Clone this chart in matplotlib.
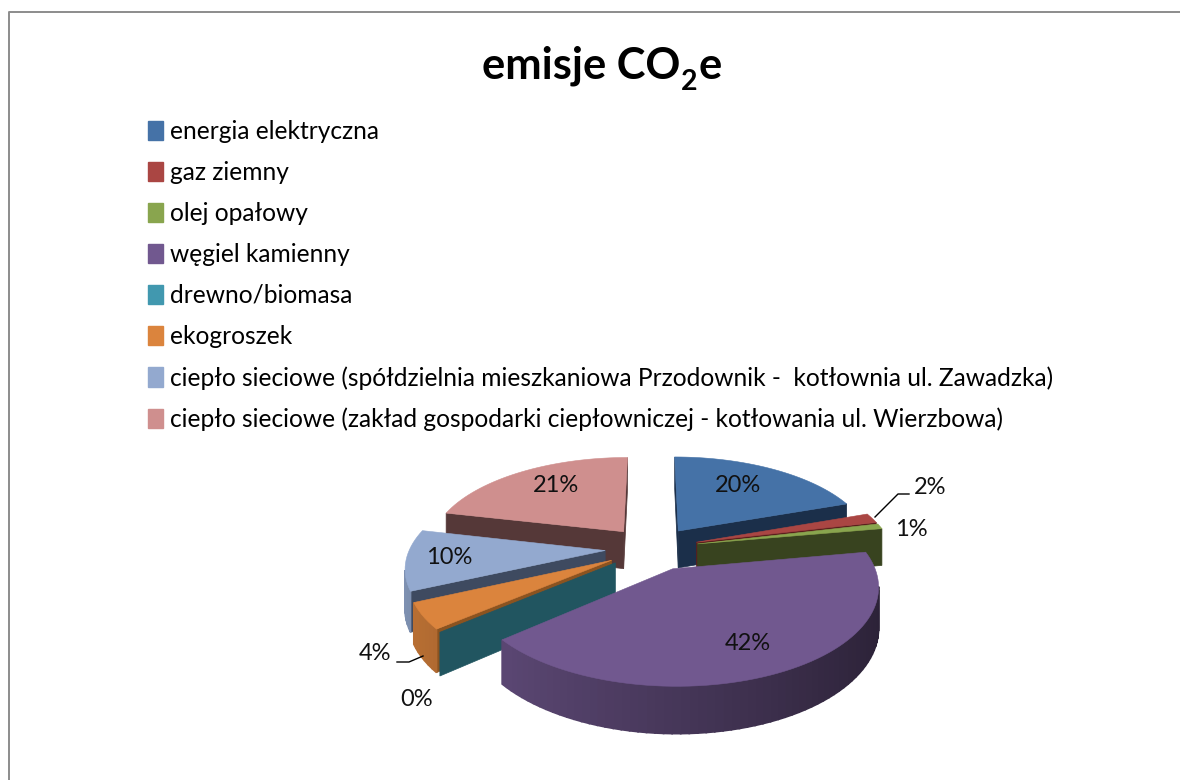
import numpy as np
import matplotlib
matplotlib.use("Agg")
import matplotlib.pyplot as plt
from matplotlib.patches import Patch

plt.rcParams['font.family'] = ['Lato', 'DejaVu Sans']

# Data
categories = ["energia elektryczna", "gaz ziemny", "olej opałowy", "węgiel kamienny",
              "drewno/biomasa", "ekogroszek",
              "ciepło sieciowe (spółdzielnia mieszkaniowa Przodownik -  kotłownia ul. Zawadzka)",
              "ciepło sieciowe (zakład gospodarki ciepłowniczej - kotłowania ul. Wierzbowa)"]
shares = [19.6, 1.7, 0.9, 41.6, 0.0, 4.4, 10.4, 21.4]
label_texts = ['20%', '2%', '1%', '42%', '0%', '4%', '10%', '21%']

# Colours
top_colors = ['#4572A7', '#AA4643', '#89A54E', '#71588F', '#4198AF', '#DB843D', '#93A9CF', '#CF8F8E']
wall_colors = ['#1B2F4A', '#5A1E1C', '#38431F', '#2F2540', '#215560', '#8B5320', '#3E4A60', '#553838']

# Perspective of the pie (pixels)
cx, hy = 652, -16.6   # centre line, horizon
k, d = 1242, 6.2      # focal scale, camera distance
H, D = 2.82, 0.19     # plane height, pie thickness
x_scale = 0.975
explode = 0.24

# Back to front
draw_order = [7, 0, 6, 5, 4, 1, 2, 3]


def project(X, Y, depth=0.0):
    s = k / (d + Y)
    return cx + X * s * x_scale, hy + (H + depth) * s


def area(xs, ys):
    return 0.5 * sum(xs[i] * ys[(i + 1) % 4] - xs[(i + 1) % 4] * ys[i] for i in range(4))


def side_wall(ax, ox, oy, theta, color, sign):
    x1, y1 = project(ox, oy)
    x2, y2 = project(ox + np.sin(theta), oy + np.cos(theta))
    x3, y3 = project(ox + np.sin(theta), oy + np.cos(theta), D)
    x4, y4 = project(ox, oy, D)
    xs, ys = [x1, x2, x3, x4], [y1, y2, y3, y4]
    if area(xs, ys) * sign > 0:
        ax.fill(xs, ys, color=color, lw=0.5)


def draw_slice(ax, i, start, end):
    mid = (start + end) / 2
    ox, oy = explode * np.sin(mid), explode * np.cos(mid)
    base = np.array(matplotlib.colors.to_rgb(top_colors[i]))

    # radial walls
    side_wall(ax, ox, oy, start, wall_colors[i], -1)
    side_wall(ax, ox, oy, end, wall_colors[i], 1)

    if end == start:
        return

    # outer rim, shaded left to right
    n = max(int(np.degrees(end - start) / 2), 2)
    th = np.linspace(start, end, n + 1)
    X = ox + np.sin(th)
    Y = oy + np.cos(th)
    tx, ty = project(X, Y)
    bx, by = project(X, Y, D)
    for j in range(n):
        xs = [tx[j], tx[j + 1], bx[j + 1], bx[j]]
        ys = [ty[j], ty[j + 1], by[j + 1], by[j]]
        if area(xs, ys) < 0:
            f = 0.62 - 0.24 * np.sin((th[j] + th[j + 1]) / 2)
            ax.fill(xs, ys, color=tuple(base * f), lw=1.2)

    # top face
    px, py = project(ox, oy)
    ax.fill(np.r_[px, tx], np.r_[py, ty], color=top_colors[i], lw=0.4)


fig = plt.figure(figsize=(11.8, 7.8), dpi=100)
ax = fig.add_axes([0, 0, 1, 1])
ax.set_xlim(0, 1180)
ax.set_ylim(780, 0)
ax.axis('off')

# chart border, only top and left are in the picture
ax.plot([1180, 9, 9], [12, 12, 780], color='#8C8C8C', lw=1.4)

# title in three pieces so the subscript sits low like in the original
renderer = fig.canvas.get_renderer()
t1 = ax.text(482, 79, 'emisje CO', fontsize=31.2, fontweight='bold', va='baseline')
x1 = t1.get_window_extent(renderer).x1 + 1
t2 = ax.text(x1, 90, '2', fontsize=20.5, fontweight='bold', va='baseline')
x2 = t2.get_window_extent(renderer).x1 + 1
ax.text(x2, 79, 'e', fontsize=31.2, fontweight='bold', va='baseline')

edges = np.radians(np.r_[0, np.cumsum(shares)] / sum(shares) * 360)
for i in draw_order:
    draw_slice(ax, i, edges[i], edges[i + 1])

# Data labels
label_x = [738, 930, 911, 748, 417, 375, 449, 556]
label_y = [485, 487, 530, 643, 699, 654, 558, 486]
for t, x, y in zip(label_texts, label_x, label_y):
    ax.text(x, y, t, fontsize=17, ha='center', va='center', color='#111111')

# Leader lines
ax.plot([875, 898, 909], [517, 494, 494], color='black', lw=1)
ax.plot([423, 409, 397], [656, 662, 662], color='black', lw=1)

handles = [Patch(color=c) for c in top_colors]
ax.legend(handles, categories, loc='upper left', bbox_to_anchor=(148 / 1180, 1 - 120 / 780),
          frameon=False, fontsize=17.65, handlelength=0.61, handleheight=0.85, handletextpad=0.29,
          labelspacing=0.734, borderpad=0, borderaxespad=0)

fig.savefig('out.png', dpi=100)
